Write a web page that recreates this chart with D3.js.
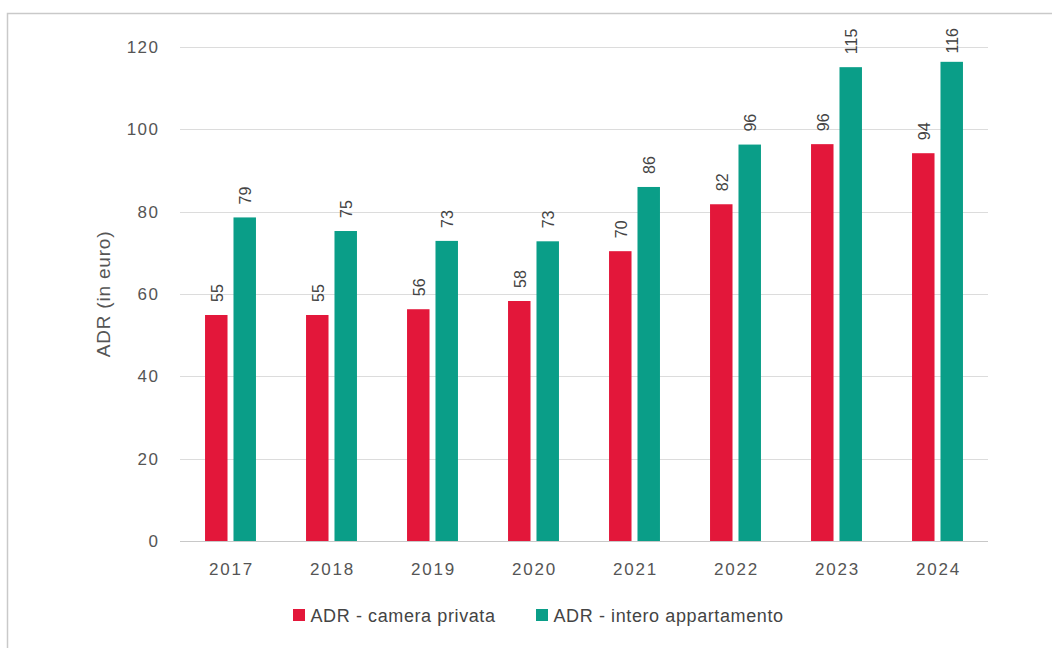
<head>
  <meta charset="UTF-8">
  <script src="https://d3js.org/d3.v7.min.js"></script>
</head>
<body>
  <div id="adrContainer">
    <svg id="adrSVG"></svg>
  </div>
</body>
<style>
  html,body{margin: 0;padding: 0;background: #fff;}
  #adrContainer{position: relative;}
  text{font-family: 'Liberation Sans',Arial,sans-serif;}
</style>
<script type="text/javascript">
  // data
  const years=['2017','2018','2019','2020','2021','2022','2023','2024'];
  const seriesNames=['ADR - camera privata','ADR - intero appartamento'];
  const cameraPrivata=[54.9,54.9,56.3,58.3,70.4,81.8,96.4,94.2];
  const interoAppartamento=[78.6,75.3,72.9,72.8,86.0,96.3,115.1,116.4];
  const yTicks=[0,20,40,60,80,100,120];
  const colors=['#e3173a','#0a9e88'];

  const width=1052,height=648;
  const plot={left: 180,right: 988,top: 47,bottom: 541};

  let svg=d3.select('#adrSVG')
    .attr('width',width)
    .attr('height',height);

  // frame (only top and left edges are visible)
  svg.append('path')
    .attr('d',`M7.5,${height} V13.5 H${width}`)
    .attr('fill','none')
    .attr('stroke','#c9c9c9')
    .attr('stroke-width',1.5);

  const x0=d3.scaleBand()
    .domain(years)
    .range([plot.left,plot.right]);

  const x1=d3.scaleBand()
    .domain(seriesNames)
    .range([0,x0.bandwidth()])
    .paddingInner(0.21)
    .paddingOuter(0.88);

  const y=d3.scaleLinear()
    .domain([0,120])
    .range([plot.bottom,plot.top]);

  // gridlines
  svg.append('g')
    .attr('class','grid')
    .selectAll('line')
    .data(yTicks.filter(d => d !== 0))
    .join('line')
    .attr('x1',plot.left)
    .attr('x2',plot.right)
    .attr('y1',d => Math.round(y(d))+0.5)
    .attr('y2',d => Math.round(y(d))+0.5)
    .attr('stroke','#dcdcdc')
    .attr('stroke-width',1);

  // y tick labels
  svg.append('g')
    .selectAll('text')
    .data(yTicks)
    .join('text')
    .attr('x',159.5)
    .attr('y',d => y(d))
    .attr('dy','0.36em')
    .attr('text-anchor','end')
    .attr('font-size','17px')
    .attr('letter-spacing','1.5px')
    .attr('fill','#555')
    .text(d => d);

  // y title
  svg.append('text')
    .attr('transform',`translate(110,${(plot.top+plot.bottom)/2}) rotate(-90)`)
    .attr('text-anchor','middle')
    .attr('font-size','19px')
    .attr('letter-spacing','0.8px')
    .attr('fill','#555')
    .text('ADR (in euro)');

  const rows=years.map((yr,i) => ({
    year: yr,
    values: [
      {key: seriesNames[0],value: cameraPrivata[i],color: colors[0]},
      {key: seriesNames[1],value: interoAppartamento[i],color: colors[1]}
    ]
  }));

  const groups=svg.append('g')
    .attr('class','bars')
    .selectAll('g')
    .data(rows)
    .join('g')
    .attr('transform',d => `translate(${x0(d.year)},0)`);

  groups.selectAll('rect')
    .data(d => d.values)
    .join('rect')
    .attr('x',d => x1(d.key))
    .attr('width',x1.bandwidth())
    .attr('y',d => y(d.value))
    .attr('height',d => y(0) - y(d.value))
    .attr('fill',d => d.color);

  // value labels, kept inside the chart frame when a bar is too tall
  groups.selectAll('text')
    .data(d => d.values)
    .join('text')
    .attr('dy','0.36em')
    .attr('text-anchor','start')
    .attr('font-size','16px')
    .attr('fill','#444')
    .text(d => Math.round(d.value))
    .attr('transform',function(d){
      const len=this.getComputedTextLength();
      let start=y(d.value) - 13;
      if(start - len < 28) start=28+len;
      return `translate(${x1(d.key)+x1.bandwidth()/2+1},${start}) rotate(-90)`;
    });

  // baseline
  svg.append('line')
    .attr('x1',plot.left)
    .attr('x2',plot.right)
    .attr('y1',plot.bottom+0.5)
    .attr('y2',plot.bottom+0.5)
    .attr('stroke','#c8c8c8')
    .attr('stroke-width',1);

  // x labels
  svg.append('g')
    .selectAll('text')
    .data(years)
    .join('text')
    .attr('x',d => x0(d)+x0.bandwidth()/2+0.9)
    .attr('y',575)
    .attr('text-anchor','middle')
    .attr('font-size','17px')
    .attr('letter-spacing','1.8px')
    .attr('fill','#555')
    .text(d => d);

  // legend
  const legendX=[293,536];
  const legend=svg.append('g')
    .attr('class','legend')
    .selectAll('g')
    .data(seriesNames)
    .join('g')
    .attr('transform',(d,i) => `translate(${legendX[i]},609)`);

  legend.append('rect')
    .attr('width',12)
    .attr('height',12)
    .attr('fill',(d,i) => colors[i]);

  legend.append('text')
    .attr('x',17.5)
    .attr('y',12.5)
    .attr('font-size','18px')
    .attr('letter-spacing','0.6px')
    .attr('fill','#444')
    .text(d => d);
</script>
